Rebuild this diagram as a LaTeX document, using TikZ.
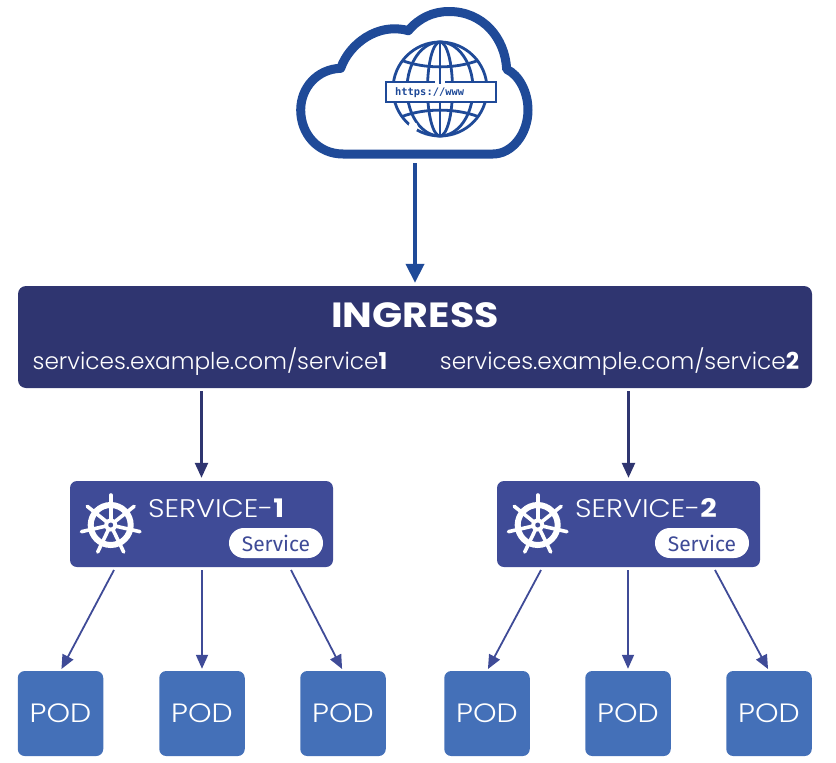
\documentclass[tikz,border=0pt]{standalone}
\usepackage{fontspec}
\setmainfont{Poppins}[UprightFont=* Light,BoldFont=* Bold]
\newfontfamily\widefont{Poppins}[UprightFont=* Light,BoldFont=* Bold,FakeStretch=1.13]
\newfontfamily\svcfont{Fira Sans}
\newfontfamily\urlfont{DejaVu Sans Mono}
\usetikzlibrary{arrows.meta,calc}
\definecolor{cloudblue}{HTML}{1F4A98}
\definecolor{ingcol}{HTML}{2F3570}
\definecolor{svccol}{HTML}{3F4B97}
\definecolor{podcol}{HTML}{4470B8}
\tikzset{
  podbox/.style={fill=podcol,rounded corners=7pt,minimum width=85.5pt,minimum height=85pt,inner sep=0pt,text=white,font=\widefont\fontsize{26.5}{30}\selectfont},
  svcbox/.style={fill=svccol,rounded corners=7pt,minimum width=263pt,minimum height=86pt,inner sep=0pt},
  svctitle/.style={text=white,inner sep=0pt,anchor=base west,font=\widefont\fontsize{25.5}{30}\selectfont},
  pill/.style={fill=white,rounded corners=14.9pt,minimum width=94pt,minimum height=30pt,inner sep=0pt,text=svccol,font=\svcfont\fontsize{21}{24}\selectfont},
  urltext/.style={text=white,inner sep=0pt,anchor=base,font=\fontsize{23.2}{28}\selectfont},
  bigarrow/.style={draw=cloudblue,line width=4pt,-{Triangle[length=19pt,width=18pt]}},
  midarrow/.style={draw=ingcol,line width=2.4pt,-{Triangle[length=15pt,width=13pt]}},
  thinarrow/.style={draw=svccol,line width=1.8pt,-{Triangle[length=14pt,width=12pt]}},
  wheel/.pic={
    \draw[white,line width=6pt] (0,0) circle (20);
    \foreach \a in {90,141.43,192.86,244.29,295.71,347.14,398.57}{
      \draw[white,line width=3.6pt,line cap=round] (0,0) -- ({30*cos(\a)},{-30*sin(\a)});
    }
    \fill[white] (0,0) circle (6.5);
    \fill[svccol] (0,0) circle (2.5);
  }
}
\begin{document}
\begin{tikzpicture}[x=1pt,y=-1pt]
\useasboundingbox (0,0) rectangle (836,763);
% cloud
\draw[cloudblue,line width=9pt,line join=round] (343,154)
  .. controls (318,154) and (300.7,134) .. (300.7,110)
  .. controls (300.7,88) and (317,69) .. (340.7,68.3)
  .. controls (349,44) and (378,22) .. (408.3,30.7)
  .. controls (419,18) and (433,11.5) .. (449,11.5)
  .. controls (483,11.5) and (505,38) .. (506.7,69.3)
  .. controls (519,75) and (528,92) .. (528,110)
  .. controls (528,134) and (512,154) .. (493,154) -- cycle;
% globe
\begin{scope}[cloudblue,line width=2.8pt]
  \draw (440,89) circle (47);
  \draw (440,42) -- (440,136);
  \draw (440,89) ellipse [x radius=12.5,y radius=47];
  \draw (440,89) ellipse [x radius=33,y radius=47];
  \draw (402,60.5) .. controls (425,69) and (455,69) .. (478,60.5);
  \draw (402,116.5) .. controls (425,108) and (455,108) .. (478,116.5);
  \fill[white] (413,127) circle (5);
  \draw[fill=white] (386,82) rectangle (496,102);
  \draw[white,line width=3.2pt] (435,82) -- (445,82);
  \draw (440,76) -- (440,84);
\end{scope}
\node[text=cloudblue,inner sep=0pt,anchor=base west,font=\urlfont\bfseries\fontsize{10.4}{12}\selectfont] (url) at (395,95.5) {https://www};
\coordinate (cloudbot) at (415,163);
% ingress
\node[fill=ingcol,rounded corners=8pt,minimum width=794pt,minimum height=102pt,inner sep=0pt] (ing) at (415,337) {};
\node[text=white,inner sep=0pt,anchor=base,font=\widefont\bfseries\fontsize{35}{40}\selectfont] (ingt) at (415,327) {INGRESS};
\node[urltext] (u1) at (210,369) {services.example.com/service\textbf{1}};
\node[urltext] (u2) at (619.5,369) {services.example.com/service\textbf{2}};
% services
\node[svcbox] (s1) at (201.5,524) {};
\node[svcbox] (s2) at (628.5,524) {};
\pic at (110.7,525) {wheel};
\pic at (537.7,525) {wheel};
\node[svctitle] (t1) at (148,517) {SERVICE-\textbf{1}};
\node[svctitle] (t2) at (575,517) {SERVICE-\textbf{2}};
\node[pill] (p1) at (276,543) {Service};
\node[pill] (p2) at (702,543) {Service};
% pods
\node[podbox] (a1) at (60.5,713.5) {POD};
\node[podbox] (a2) at (202,713.5) {POD};
\node[podbox] (a3) at (343,713.5) {POD};
\node[podbox] (b1) at (487,713.5) {POD};
\node[podbox] (b2) at (628,713.5) {POD};
\node[podbox] (b3) at (769,713.5) {POD};
% connectors
\draw[bigarrow,shorten >=3pt] (cloudbot) -- (cloudbot |- ing.north);
\draw[midarrow,shorten <=3pt,shorten >=3pt] (s1.north |- ing.south) -- (s1.north);
\draw[midarrow,shorten <=3pt,shorten >=3pt] (s2.north |- ing.south) -- (s2.north);
\coordinate (s1l) at (114,570); \coordinate (s1r) at (291,570);
\coordinate (s2l) at (541,570); \coordinate (s2r) at (715,570);
\draw[thinarrow,shorten >=2pt] (s1l) -- (a1.north);
\draw[thinarrow,shorten <=3pt,shorten >=2pt] (a2.north |- s1.south) -- (a2.north);
\draw[thinarrow,shorten >=2pt] (s1r) -- (a3.north);
\draw[thinarrow,shorten >=2pt] (s2l) -- (b1.north);
\draw[thinarrow,shorten <=3pt,shorten >=2pt] (b2.north |- s2.south) -- (b2.north);
\draw[thinarrow,shorten >=2pt] (s2r) -- (b3.north);
\end{tikzpicture}
\end{document}
